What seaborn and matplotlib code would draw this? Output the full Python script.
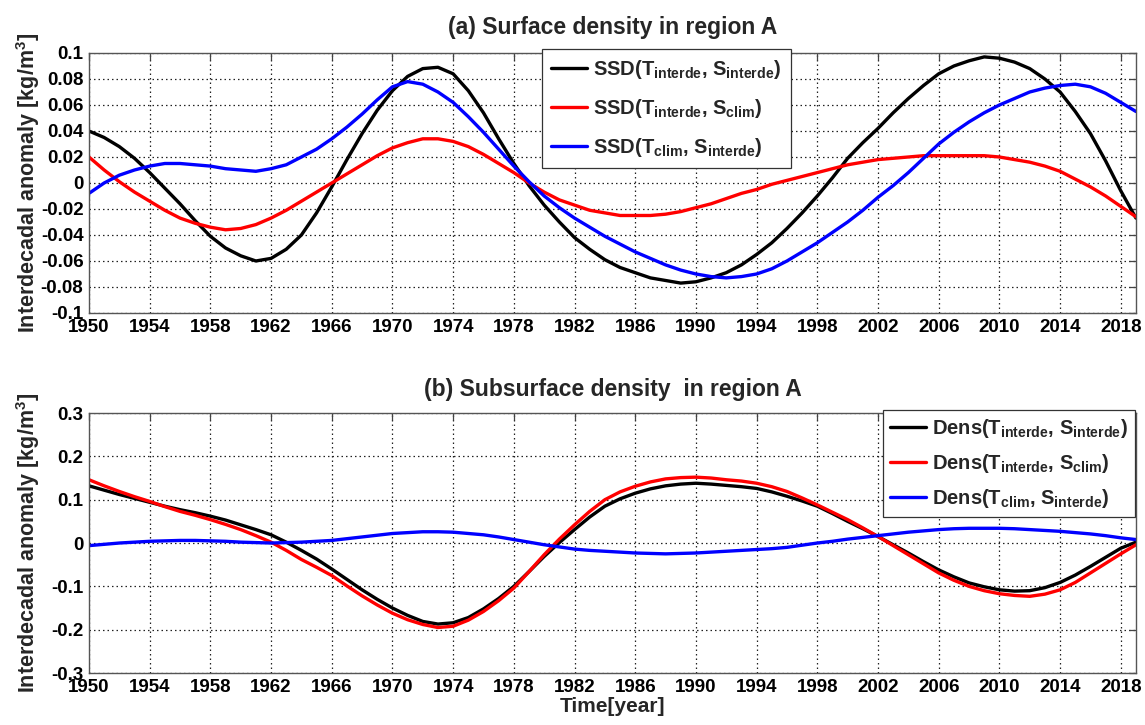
import matplotlib
matplotlib.use("Agg")
import matplotlib.pyplot as plt
import seaborn as sns
import pandas as pd

# ---------------- data ----------------
years = list(range(1950, 2020))

ssd_ti_si = [0.040, 0.035, 0.028, 0.019, 0.008, -0.004, -0.016, -0.029, -0.041, -0.050,
             -0.056, -0.060, -0.058, -0.051, -0.040, -0.023, -0.003, 0.018, 0.038, 0.056,
             0.071, 0.082, 0.088, 0.089, 0.084, 0.071, 0.054, 0.034, 0.015, -0.002,
             -0.017, -0.030, -0.042, -0.051, -0.059, -0.065, -0.069, -0.073, -0.075, -0.077,
             -0.076, -0.073, -0.069, -0.063, -0.055, -0.046, -0.035, -0.023, -0.010, 0.004,
             0.019, 0.031, 0.042, 0.054, 0.065, 0.075, 0.084, 0.090, 0.094, 0.097,
             0.096, 0.093, 0.088, 0.080, 0.070, 0.055, 0.038, 0.017, -0.006, -0.027]
ssd_ti_sc = [0.020, 0.010, 0.001, -0.007, -0.014, -0.021, -0.027, -0.031, -0.034, -0.036,
             -0.035, -0.032, -0.027, -0.021, -0.014, -0.007, 0.000, 0.007, 0.014, 0.021,
             0.027, 0.031, 0.034, 0.034, 0.032, 0.028, 0.022, 0.015, 0.008, 0.000,
             -0.007, -0.013, -0.017, -0.021, -0.023, -0.025, -0.025, -0.025, -0.024, -0.022,
             -0.019, -0.016, -0.012, -0.008, -0.005, -0.001, 0.002, 0.005, 0.008, 0.011,
             0.014, 0.016, 0.018, 0.019, 0.020, 0.021, 0.021, 0.021, 0.021, 0.021,
             0.020, 0.018, 0.016, 0.013, 0.009, 0.003, -0.003, -0.010, -0.018, -0.026]
ssd_tc_si = [-0.008, 0.000, 0.006, 0.010, 0.013, 0.015, 0.015, 0.014, 0.013, 0.011,
             0.010, 0.009, 0.011, 0.014, 0.020, 0.026, 0.034, 0.043, 0.053, 0.064,
             0.074, 0.078, 0.076, 0.070, 0.062, 0.051, 0.039, 0.026, 0.013, 0.001,
             -0.010, -0.019, -0.027, -0.034, -0.041, -0.047, -0.053, -0.058, -0.063, -0.067,
             -0.070, -0.072, -0.073, -0.072, -0.070, -0.066, -0.060, -0.053, -0.046, -0.038,
             -0.030, -0.021, -0.011, -0.002, 0.008, 0.019, 0.030, 0.039, 0.047, 0.054,
             0.060, 0.065, 0.070, 0.073, 0.075, 0.076, 0.074, 0.069, 0.062, 0.055]

dens_ti_si = [0.132, 0.122, 0.112, 0.103, 0.094, 0.085, 0.077, 0.070, 0.062, 0.053,
              0.042, 0.031, 0.019, 0.002, -0.017, -0.037, -0.060, -0.084, -0.108, -0.130,
              -0.150, -0.167, -0.181, -0.187, -0.184, -0.172, -0.152, -0.128, -0.100, -0.066,
              -0.031, 0.001, 0.031, 0.060, 0.085, 0.102, 0.115, 0.125, 0.132, 0.136,
              0.138, 0.136, 0.133, 0.130, 0.126, 0.118, 0.108, 0.097, 0.085, 0.068,
              0.050, 0.033, 0.015, -0.004, -0.023, -0.043, -0.062, -0.078, -0.092, -0.101,
              -0.108, -0.111, -0.110, -0.103, -0.091, -0.074, -0.054, -0.033, -0.012, 0.002]
dens_ti_sc = [0.146, 0.132, 0.119, 0.107, 0.096, 0.084, 0.073, 0.064, 0.054, 0.043,
              0.031, 0.017, 0.002, -0.017, -0.038, -0.056, -0.075, -0.099, -0.122, -0.143,
              -0.162, -0.177, -0.188, -0.195, -0.192, -0.178, -0.158, -0.133, -0.104, -0.066,
              -0.027, 0.009, 0.042, 0.073, 0.100, 0.118, 0.131, 0.141, 0.148, 0.151,
              0.152, 0.150, 0.146, 0.143, 0.138, 0.130, 0.119, 0.104, 0.088, 0.071,
              0.054, 0.035, 0.015, -0.006, -0.027, -0.048, -0.069, -0.086, -0.100, -0.110,
              -0.117, -0.121, -0.123, -0.118, -0.108, -0.091, -0.069, -0.047, -0.025, -0.004]
dens_tc_si = [-0.006, -0.003, 0.000, 0.002, 0.004, 0.005, 0.006, 0.006, 0.005, 0.004,
              0.002, 0.001, 0.000, 0.001, 0.002, 0.004, 0.006, 0.010, 0.014, 0.018,
              0.022, 0.024, 0.026, 0.026, 0.025, 0.022, 0.019, 0.014, 0.008, 0.002,
              -0.004, -0.009, -0.014, -0.017, -0.019, -0.021, -0.023, -0.024, -0.025, -0.024,
              -0.023, -0.021, -0.019, -0.017, -0.015, -0.013, -0.010, -0.005, 0.000, 0.004,
              0.009, 0.013, 0.017, 0.021, 0.025, 0.028, 0.031, 0.033, 0.034, 0.034,
              0.034, 0.033, 0.031, 0.029, 0.027, 0.024, 0.021, 0.017, 0.012, 0.008]

xticks = [1950, 1954, 1958, 1962, 1966, 1970, 1974, 1978, 1982, 1986,
          1990, 1994, 1998, 2002, 2006, 2010, 2014, 2018]
yticks_a = [-0.1, -0.08, -0.06, -0.04, -0.02, 0, 0.02, 0.04, 0.06, 0.08, 0.1]
yticklabels_a = ['-0.1', '-0.08', '-0.06', '-0.04', '-0.02', '0',
                 '0.02', '0.04', '0.06', '0.08', '0.1']
yticks_b = [-0.3, -0.2, -0.1, 0, 0.1, 0.2, 0.3]
yticklabels_b = ['-0.3', '-0.2', '-0.1', '0', '0.1', '0.2', '0.3']

labels_a = [r'SSD(T$_{interde}$, S$_{interde}$)',
            r'SSD(T$_{interde}$, S$_{clim}$)',
            r'SSD(T$_{clim}$, S$_{interde}$)']
labels_b = [r'Dens(T$_{interde}$, S$_{interde}$)',
            r'Dens(T$_{interde}$, S$_{clim}$)',
            r'Dens(T$_{clim}$, S$_{interde}$)']
colors = ['#000000', '#ff0000', '#0000ff']

title_a = '(a) Surface density in region A'
title_b = '(b) Subsurface density  in region A'
ylabel = r'Interdecadal anomaly [kg/m$^{3}$]'
xlabel = 'Time[year]'

# ---------------- style ----------------
sns.set_style('white')
plt.rcParams['font.family'] = ['Liberation Sans', 'DejaVu Sans']
plt.rcParams['font.weight'] = 'bold'
plt.rcParams['mathtext.fontset'] = 'custom'
plt.rcParams['mathtext.rm'] = 'Liberation Sans:bold'
plt.rcParams['mathtext.it'] = 'Liberation Sans:bold'
plt.rcParams['mathtext.bf'] = 'Liberation Sans:bold'

fig = plt.figure(figsize=(11.45, 7.25), dpi=100)
ax1 = fig.add_axes([0.0777, 0.5683, 0.9144, 0.3586])
ax2 = fig.add_axes([0.0777, 0.0717, 0.9144, 0.3586])


def draw(ax, series, labels, yticks, yticklabels, title, legend_anchor, legend_loc,
         title_pad, spacing, bpad):
    n = len(years)
    df = pd.DataFrame({'year': years * 3,
                       'value': series[0] + series[1] + series[2],
                       'series': [labels[0]] * n + [labels[1]] * n + [labels[2]] * n})
    sns.lineplot(data=df, x='year', y='value', hue='series', hue_order=labels,
                 palette=dict(zip(labels, colors)), linewidth=2.4, ax=ax, legend=True)
    ax.set_xlim(1950, 2019)
    ax.set_ylim(yticks[0], yticks[-1])
    ax.set_xticks(xticks)
    ax.set_xticklabels([str(x) for x in xticks], fontsize=13.5, fontweight='bold')
    ax.set_yticks(yticks)
    ax.set_yticklabels(yticklabels, fontsize=13.5, fontweight='bold')
    ax.grid(True, color='#222222', linestyle=(0, (1.2, 2.4)), linewidth=0.9)
    ax.tick_params(direction='in', top=True, right=True, length=5, width=0.9,
                   colors='#444444', labelcolor='black', pad=4)
    for sp in ax.spines.values():
        sp.set_color('#555555')
        sp.set_linewidth(1.0)
    ax.set_title(title, fontsize=16.5, fontweight='bold', pad=title_pad)
    ax.set_ylabel(ylabel, fontsize=15.5, fontweight='bold')
    ax.yaxis.set_label_coords(-0.045, 0.5)
    ax.set_xlabel('')
    handles, labs = ax.get_legend_handles_labels()
    leg = ax.legend(handles, labs, loc=legend_loc, bbox_to_anchor=legend_anchor,
                    fontsize=14.5, frameon=True, fancybox=False, framealpha=1,
                    edgecolor='#333333', borderaxespad=0, handlelength=1.8,
                    handletextpad=0.3, labelspacing=spacing, borderpad=bpad)
    leg.get_frame().set_linewidth(0.9)
    for t in leg.get_texts():
        t.set_fontweight('bold')


draw(ax1, [ssd_ti_si, ssd_ti_sc, ssd_tc_si], labels_a, yticks_a, yticklabels_a,
     title_a, (0.4327, 1.015), 'upper left', 14, 0.8, 0.45)
draw(ax2, [dens_ti_si, dens_ti_sc, dens_tc_si], labels_b, yticks_b, yticklabels_b,
     title_b, (0.9995, 1.012), 'upper right', 12, 0.6, 0.35)
ax2.set_xlabel(xlabel, fontsize=15, fontweight='bold', labelpad=1)

fig.savefig('out.png', dpi=100)
